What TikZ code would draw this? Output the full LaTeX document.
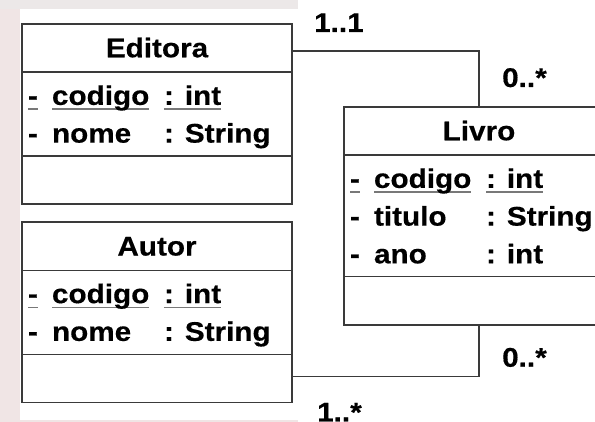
\documentclass[tikz,border=0pt]{standalone}
\usepackage{fontspec}
\setmainfont{Liberation Sans}[FakeStretch=1.1, BoldFeatures={FakeBold=0.4}]
\usetikzlibrary{positioning,shapes}
\definecolor{boxgray}{RGB}{58,58,58}
\definecolor{ulgray}{RGB}{120,120,120}
\definecolor{bgpink}{RGB}{240,229,229}
\definecolor{bgtop}{RGB}{236,232,232}
\tikzstyle{classbox}=[rectangle split, rectangle split parts=3, draw=boxgray, line width=1.6pt,
inner xsep=6pt, inner ysep=0pt, outer sep=0pt, font=\fontsize{27}{30}\selectfont\bfseries]
\tikzstyle{assoc}=[-, line width=1.4pt, boxgray]
\tikzstyle{mult}=[inner sep=0pt, anchor=base west, font=\fontsize{27}{30}\selectfont\bfseries]
% underline for static members
\newcommand{\ulin}[1]{\setbox0=\hbox{#1}\rlap{\color{ulgray}\rule[-5pt]{\wd0}{1.6pt}}\box0}
% one attribute line, 37.5pt high
\newcommand{\attr}[3]{\hbox to 258pt{\rule[-5.5pt]{0pt}{37.5pt}\makebox[24pt][l]{#1}\makebox[112pt][l]{#2}#3\hfil}}
% class name compartment
\newcommand{\chead}[1]{\hbox to 258pt{\rule[-14pt]{0pt}{46.5pt}\hfil #1\hfil}}
% attribute compartment
\newcommand{\attrs}[1]{\vbox{\offinterlineskip #1\vskip 7pt}}
\begin{document}
\begin{tikzpicture}[x=1pt, y=1pt]

\clip (0,0) rectangle (595,422);
% background
\fill[bgpink] (0,0) rectangle (298,422);
\fill[bgtop] (0,413) rectangle (298,422);
\fill[white] (20,2) rectangle (298,413);

% classes
    \node (editora) [classbox, anchor=north west] at (22,398)
        {
        \chead{Editora}
        \nodepart{second} \attrs{\attr{\ulin{-}}{\ulin{codigo}}{\ulin{: int}}
          \attr{-}{nome}{: String}}
        \nodepart{third} \rule{0pt}{46.5pt}
        };
    \node (autor) [classbox, below=18pt of editora]
        {
        \chead{Autor}
        \nodepart{second} \attrs{\attr{\ulin{-}}{\ulin{codigo}}{\ulin{: int}}
          \attr{-}{nome}{: String}}
        \nodepart{third} \rule{0pt}{46.5pt}
        };
    \node (livro) [classbox, below right=83pt and 52pt of editora.north east]
        {
        \chead{Livro}
        \nodepart{second} \attrs{\attr{\ulin{-}}{\ulin{codigo}}{\ulin{: int}}
          \attr{-}{titulo}{: String}
          \attr{-}{ano}{: int}}
        \nodepart{third} \rule{0pt}{46.5pt}
        };

% associations
\draw[assoc] ([yshift=-27pt]editora.north east) -| (livro.north);
\draw[assoc] ([yshift=26pt]autor.south east) -| (livro.south);

% multiplicities
\node (m1) [mult] at ([xshift=22pt,yshift=-8pt]editora.north east) {1..1};
\node (m2) [mult] at ([xshift=23pt,yshift=20pt]livro.north) {0..*};
\node (m3) [mult] at ([xshift=23pt,yshift=-42pt]livro.south) {0..*};
\node (m4) [mult] at ([xshift=25pt,yshift=-19pt]autor.south east) {1..*};

\end{tikzpicture}
\end{document}
